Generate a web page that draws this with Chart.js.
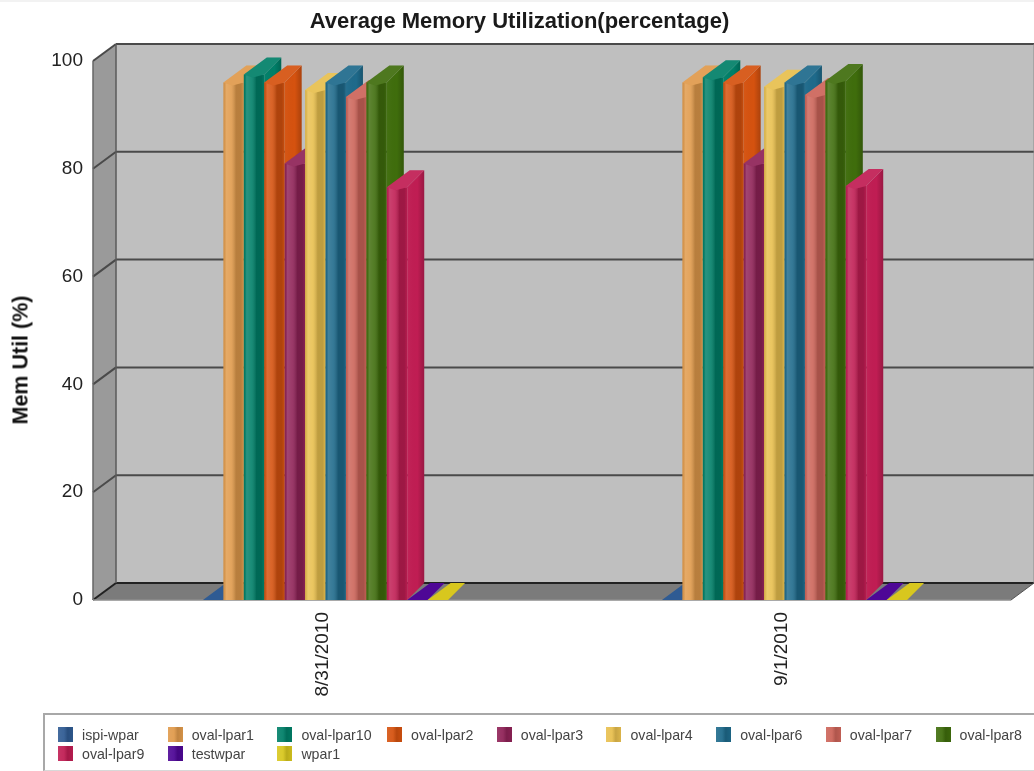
<!DOCTYPE html>
<html lang="en">
<head>
  <meta charset="UTF-8" />
  <title>Average Memory Utilization</title>
  <script src="https://cdn.jsdelivr.net/npm/chart.js"></script>
  <style>
    html, body { margin: 0; padding: 0; background: #fff; }
    body {
      width: 1034px; height: 771px; position: relative; overflow: hidden;
      font-family: 'Liberation Sans', Arial, sans-serif;
      background: linear-gradient(#f2f2f2 2px, #fff 2px);
    }
    canvas { position: absolute; left: 0; top: 0; filter: blur(0.6px); }
    #chartTitle {
      position: absolute; left: 0; top: 8px; width: 1039px; text-align: center;
      font-size: 22px; line-height: 26px; font-weight: bold; color: #1a1a1a; filter: blur(0.4px);
    }
    #yTitle {
      position: absolute; left: 21px; top: 360px; white-space: nowrap;
      font-size: 21.5px; font-weight: bold; color: #111; filter: blur(0.4px);
      transform: translate(-50%, -50%) rotate(-90deg);
    }
    #legend {
      position: absolute; left: 43px; top: 713px; width: 1000px; height: 58px;
      border: 2px solid #a8a8a8; border-bottom: 1px solid #d8d8d8; box-sizing: border-box; background: #fff;
      display: grid; grid-template-columns: repeat(9, 109.7px); grid-auto-rows: 19px;
      padding: 10px 0 0 13px; filter: blur(0.5px);
    }
    #legend div { display: flex; align-items: center; font-size: 14.2px; color: #444; white-space: nowrap; }
    #legend i {
      width: 15px; height: 15px; margin-right: 9px; flex: none;
      background-image: linear-gradient(to right, rgba(255,255,255,0.1), rgba(255,255,255,0.06) 40%, rgba(0,0,0,0.14) 65%, rgba(0,0,0,0.06));
    }
  </style>
</head>
<body>
  <canvas id="memChart" width="1034" height="771"></canvas>
  <div id="chartTitle">Average Memory Utilization(percentage)</div>
  <div id="yTitle">Mem Util (%)</div>
  <div id="legend"></div>

  <script>
    const dates = ['8/31/2010', '9/1/2010'];
    const yTicks = [0, 20, 40, 60, 80, 100];

    const seriesNames = ['ispi-wpar', 'oval-lpar1', 'oval-lpar10', 'oval-lpar2', 'oval-lpar3', 'oval-lpar4',
      'oval-lpar6', 'oval-lpar7', 'oval-lpar8', 'oval-lpar9', 'testwpar', 'wpar1'];

    const ispiWpar = [0, 0];
    const ovalLpar1 = [96, 96];
    const ovalLpar10 = [97.5, 97];
    const ovalLpar2 = [96, 96];
    const ovalLpar3 = [81, 81];
    const ovalLpar4 = [94.6, 95.2];
    const ovalLpar6 = [96, 96];
    const ovalLpar7 = [93.3, 93.7];
    const ovalLpar8 = [96, 96.3];
    const ovalLpar9 = [76.6, 76.8];
    const testWpar = [0, 0];
    const wpar1 = [0, 0];
    const seriesValues = [ispiWpar, ovalLpar1, ovalLpar10, ovalLpar2, ovalLpar3, ovalLpar4,
      ovalLpar6, ovalLpar7, ovalLpar8, ovalLpar9, testWpar, wpar1];

    const palette = ['#2f5b93', '#e09a4b', '#007f68', '#d5520f', '#8f2257', '#e8bf4e',
      '#1e6a8b', '#cc6459', '#3f6d0c', '#c01d53', '#4e0796', '#d8c71e'];

    // 3D look: how far the back of the box sits from the front
    const depthX = 23, depthY = 17, barDepthRight = 17;
    const wallShift = 3; // bars sit a bit right of the front edge in the original

    function poly(ctx, pts, fill) {
      ctx.beginPath();
      pts.forEach((p, i) => i ? ctx.lineTo(p[0], p[1]) : ctx.moveTo(p[0], p[1]));
      ctx.closePath();
      ctx.fillStyle = fill;
      ctx.fill();
    }

    function line(ctx, x1, y1, x2, y2, color, w) {
      ctx.beginPath();
      ctx.moveTo(x1, y1);
      ctx.lineTo(x2, y2);
      ctx.strokeStyle = color;
      ctx.lineWidth = w;
      ctx.stroke();
    }

    function drawWalls(chart) {
      const ctx = chart.ctx, a = chart.chartArea, y = chart.scales.y;
      const fl = a.left - wallShift, fr = a.right - wallShift;
      const top = y.getPixelForValue(100), bot = y.getPixelForValue(0);
      poly(ctx, [[fl + depthX, top - depthY], [fr + depthX, top - depthY], [fr + depthX, bot - depthY], [fl + depthX, bot - depthY]], '#bfbfbf');
      poly(ctx, [[fl, top], [fl + depthX, top - depthY], [fl + depthX, bot - depthY], [fl, bot]], '#9a9a9a');
      poly(ctx, [[fl, bot], [fl + depthX, bot - depthY], [fr + depthX, bot - depthY], [fr, bot]], '#7b7b7b');
      yTicks.forEach(v => {
        const py = y.getPixelForValue(v);
        const c = v === 0 ? '#222' : '#4a4a4a';
        line(ctx, fl, py, fl + depthX, py - depthY, c, 2);
        line(ctx, fl + depthX, py - depthY, fr + depthX, py - depthY, c, 2);
      });
      line(ctx, fl, top, fl, bot, '#666', 1.5);
      line(ctx, fl + depthX, top - depthY, fl + depthX, bot - depthY, '#5a5a5a', 1.5);
      line(ctx, fr + depthX, top - depthY, fr + depthX, bot - depthY, '#8a8a8a', 1);
      line(ctx, fr + depthX, bot - depthY, fr, bot, '#555', 1);
      line(ctx, fl, bot, fr, bot, '#8c8c8c', 1.5);
    }

    function drawBarFaces(chart, meta) {
      const ctx = chart.ctx;
      const col = palette[meta.index];
      meta.data.forEach(bar => {
        const xl = bar.x - bar.width / 2, xr = bar.x + bar.width / 2;
        const yt = bar.y, yb = bar.base;
        const topFace = [[xl, yt], [xl + depthX, yt - depthY], [xr + barDepthRight, yt - depthY], [xr, yt]];
        if (yb > yt) {
          // front shading, rounded look with a lit band left of the middle
          const g = ctx.createLinearGradient(xl, 0, xr, 0);
          g.addColorStop(0, 'rgba(0,0,0,0.05)');
          g.addColorStop(0.14, 'rgba(255,255,255,0.16)');
          g.addColorStop(0.38, 'rgba(255,255,255,0.1)');
          g.addColorStop(0.62, 'rgba(0,0,0,0.18)');
          g.addColorStop(0.86, 'rgba(0,0,0,0.18)');
          g.addColorStop(1, 'rgba(0,0,0,0.05)');
          ctx.fillStyle = g;
          ctx.fillRect(xl, yt, xr - xl, yb - yt);
          // right side
          const sidePts = [[xr, yt], [xr + barDepthRight, yt - depthY], [xr + barDepthRight, yb - depthY], [xr, yb]];
          poly(ctx, sidePts, col);
          const s = ctx.createLinearGradient(xr, 0, xr + barDepthRight, 0);
          s.addColorStop(0, 'rgba(255,255,255,0.03)');
          s.addColorStop(0.6, 'rgba(0,0,0,0)');
          s.addColorStop(1, 'rgba(0,0,0,0.2)');
          poly(ctx, sidePts, s);
          // top with a small dip on its front edge
          topFace.push([xl + (xr - xl) * 0.45, yt + 3]);
          poly(ctx, topFace, col);
          poly(ctx, topFace, 'rgba(255,255,255,0.08)');
        } else {
          poly(ctx, topFace, col);
        }
      });
    }

    const box3d = {
      id: 'box3d',
      beforeDatasetsDraw(chart) {
        const ctx = chart.ctx;
        ctx.save();
        drawWalls(chart);
        // left to right, so each bar covers the side of the one before it
        chart.getSortedVisibleDatasetMetas().forEach(meta => {
          meta.controller.draw();
          drawBarFaces(chart, meta);
        });
        ctx.restore();
        return false;
      }
    };

    new Chart(document.getElementById('memChart'), {
      type: 'bar',
      plugins: [box3d],
      data: {
        labels: dates,
        datasets: seriesNames.map((name, i) => ({
          label: name,
          data: seriesValues[i],
          backgroundColor: palette[i]
        }))
      },
      options: {
        responsive: false,
        animation: false,
        layout: { padding: { left: 0, right: 20, top: 61, bottom: 0 } },
        datasets: { bar: { categoryPercentage: 0.534, barPercentage: 1 } },
        plugins: {
          legend: { display: false },
          tooltip: { enabled: false }
        },
        scales: {
          x: {
            grid: { display: false },
            border: { display: false },
            afterFit: s => { s.height = 171; },
            ticks: {
              color: '#222', minRotation: 90, maxRotation: 90, padding: 4, labelOffset: -3,
              font: { family: 'Liberation Sans', size: 19 }
            }
          },
          y: {
            min: 0,
            max: 100,
            grid: { display: false },
            border: { display: false },
            afterFit: s => { s.width = 96; },
            afterBuildTicks: s => { s.ticks = yTicks.map(v => ({ value: v })); },
            ticks: {
              color: '#222', padding: 5,
              font: { family: 'Liberation Sans', size: 19 }
            }
          }
        }
      }
    });

    const legendBox = document.getElementById('legend');
    seriesNames.forEach((name, i) => {
      const item = document.createElement('div');
      const swatch = document.createElement('i');
      swatch.style.backgroundColor = palette[i];
      item.appendChild(swatch);
      item.appendChild(document.createTextNode(name));
      legendBox.appendChild(item);
    });
  </script>
</body>
</html>
